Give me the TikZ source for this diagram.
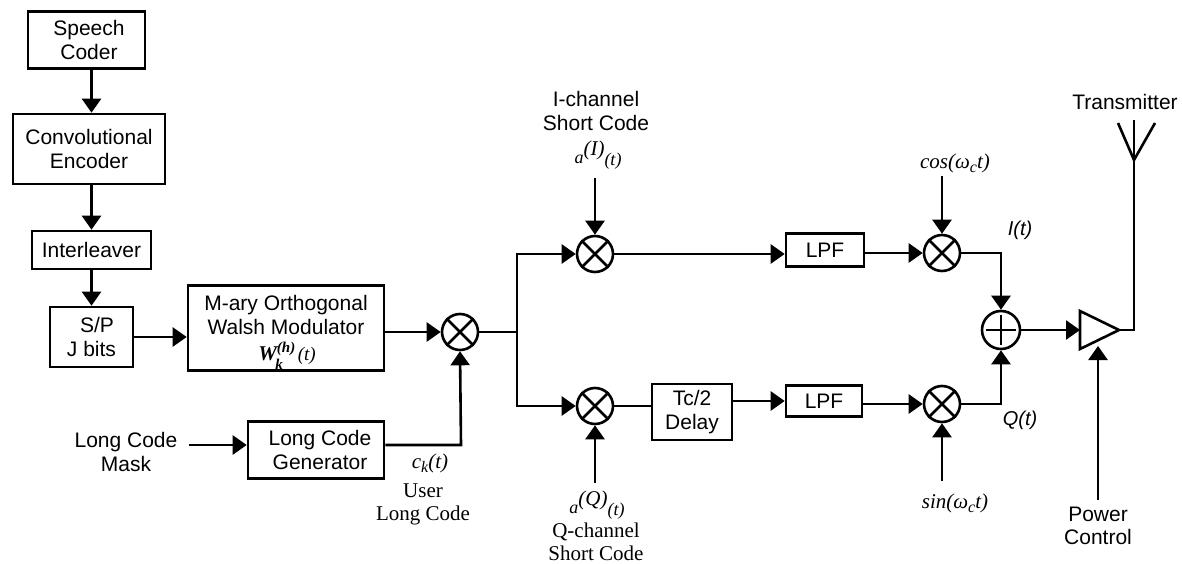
\documentclass[tikz,border=0pt]{standalone}
\usepackage{fontspec}
\setmainfont{Liberation Sans}
\newfontfamily\serifl{Liberation Serif}
\usetikzlibrary{arrows.meta}
\newcommand{\fs}[1]{\fontsize{#1}{#1}\selectfont}
\newcommand{\up}[2]{\raisebox{#1}{#2}}
\tikzset{
  x=1pt,y=-1pt,
  line/.style={line width=2.6pt,line join=miter},
  arr/.style={line width=2.6pt,-{Triangle[length=14pt,width=19pt]}},
  stepbox/.style={draw,line width=2.6pt,rectangle,inner sep=0pt,align=center,font=\fontsize{21}{23.5}\selectfont},
  lab/.style={inner sep=0pt,align=center,font=\fontsize{21}{23.5}\selectfont},
  slab/.style={inner sep=0pt,align=center,font=\serifl\fontsize{21}{23}\selectfont},
  mlab/.style={inner sep=0pt,font=\serifl\itshape\fontsize{21}{22}\selectfont},
  alab/.style={inner sep=0pt,font=\itshape\fontsize{20}{22}\selectfont},
  mix/.style={draw,circle,line width=2.6pt,minimum size=36pt,inner sep=0pt},
}
\newcommand{\mixer}[2]{\node[mix] (#1) at (#2) {};
  \draw[line] (#1.45)--(#1.225) (#1.135)--(#1.-45);}
\begin{document}
\begin{tikzpicture}
\useasboundingbox (0,0) rectangle (1182,564);
% boxes
\node[stepbox,minimum width=117pt,minimum height=57pt] (speech) at (86.5,40) {\hspace*{5pt}Speech\\\hspace*{5pt}Coder};
\node[stepbox,minimum width=152pt,minimum height=70pt] (conv) at (89,149) {Convolutional\\Encoder};
\node[stepbox,minimum width=119pt,minimum height=38pt] (inter) at (91.5,250) {Interleaver};
\node[stepbox,minimum width=83pt,minimum height=60pt] (sp) at (91.5,337) {\hspace*{11pt}S/P\\J bits};
\node[stepbox,minimum width=196pt,minimum height=85pt] (walsh) at (286,328) {};
\node[lab] (walsht) at (286,315) {M-ary Orthogonal\\Walsh Modulator};
\node[mlab] (wl) at (287,356) {\textbf{\textit{W}}\up{8pt}{\fs{15}\textbf{(\textit{h})}}\hspace{-20pt}\up{-9pt}{\fs{15}\textbf{\textit{k}}}\hspace{15pt}{\fs{19}(\textit{t})}};
\node[stepbox,minimum width=136pt,minimum height=57pt] (lcg) at (316,450) {\hspace*{8pt}Long Code\\\hspace*{8pt}Generator};
\node[stepbox,minimum width=80pt,minimum height=56pt] (delay) at (692,412) {Tc/2\\Delay};
\node[stepbox,minimum width=78pt,minimum height=33pt] (lpf1) at (825,250) {LPF};
\node[stepbox,minimum width=76pt,minimum height=31pt] (lpf2) at (824,401) {LPF};
% mixers
\mixer{m0}{460,332}
\mixer{m1}{595,254}
\mixer{m2}{595,406}
\mixer{m3}{942,253}
\mixer{m4}{942,404}
\node[mix,minimum size=38pt] (sum) at (1001,330) {};
\draw[line] ([xshift=5pt]sum.west)--([xshift=-5pt]sum.east) ([yshift=-5pt]sum.north)--([yshift=5pt]sum.south);
% amplifier
\coordinate (atl) at (1080,311); \coordinate (abl) at (1080,349); \coordinate (atip) at (1119,330);
\coordinate (ain) at (1080,330); \coordinate (apc) at (1098,346);
\draw[line] (atl)--(atip)--(abl)--cycle;
% antenna
\coordinate (aout) at (1134,330); \coordinate (afoot) at (1134,160); \coordinate (atop) at (1134,120);
\coordinate (ala) at (1118,123); \coordinate (ara) at (1155,123);
\draw[line] (atip)--(aout)--(atop);
\draw[line] (ala)--(afoot)--(ara);
% text labels
\node[lab] (lcm) at (126,452) {Long Code\\Mask};
\node[lab] (tx) at (1125,102) {Transmitter};
\node[lab] (pc) at (1098,526) {Power\\Control};
\node[lab] (ics) at (596,111) {I-channel\\Short Code};
\node[mlab] (ia) at (598,155) {{\fs{18}a}\up{8pt}{(\textit{I})}\up{-2pt}{\fs{18}(\textit{t})}};
\node[mlab] (qa) at (597,505) {{\fs{18}a}\up{8pt}{(\textit{Q})}\up{-2pt}{\fs{18}(\textit{t})}};
\node[slab] (qcs) at (596,542) {Q-channel\\Short Code};
\node[mlab] (ck) at (430,463) {c\up{-4pt}{\fs{16}k}(\textit{t})};
\node[slab] (ulc) at (423,504) {User\\Long Code};
\node[mlab] (cosl) at (955,163) {cos(\textit{ω}\up{-4pt}{\fs{16}c}\textit{t})};
\node[mlab] (sinl) at (955,503) {sin(\textit{ω}\up{-4pt}{\fs{16}c}\textit{t})};
\node[alab] (il) at (1020,230) {I(t)};
\node[alab] (ql) at (1020,420) {Q(t)};
% free ends
\coordinate (lcmr) at (189,445);
\coordinate (jn) at (517,332);
\coordinate (ji) at (517,254);
\coordinate (jq) at (517,406);
\coordinate (ck0) at (461,445);
\coordinate (i0) at (595,178);
\coordinate (q0) at (595,483);
\coordinate (c0) at (942,176);
\coordinate (s0) at (942,481);
\coordinate (i1) at (1001,253);
\coordinate (q1) at (1001,404);
\coordinate (pc0) at (1098,500);
% connectors
\draw[arr] (speech.south-|inter.north)--(conv.north-|inter.north);
\draw[arr] (conv.south-|inter.north)--(inter.north);
\draw[arr] (inter.south)--(sp.north);
\draw[arr] (sp.east)--(sp.east-|walsh.west);
\draw[arr] (walsh.east|-m0.west)--(m0.west);
\draw[arr] (lcmr)--(lcmr-|lcg.west);
\draw[arr] (lcmr-|lcg.east)--(ck0)--(m0.south);
\draw[line] (m0.east)--(jn);
\draw[arr] (jn)--(ji)--(m1.west);
\draw[arr] (jn)--(jq)--(m2.west);
\draw[arr] (i0)--(m1.north);
\draw[arr] (q0)--(m2.south);
\draw[arr] (m1.east)--(m1.east-|lpf1.west);
\draw[line] (m2.east)--(m2.east-|delay.west);
\draw[arr] (delay.east|-lpf2.west)--(lpf2.west);
\draw[arr] (lpf1.east|-m3.west)--(m3.west);
\draw[arr] (lpf2.east|-m4.west)--(m4.west);
\draw[arr] (c0)--(m3.north);
\draw[arr] (s0)--(m4.south);
\draw[arr] (m3.east)--(i1)--(sum.north);
\draw[arr] (m4.east)--(q1)--(sum.south);
\draw[arr] (sum.east)--(ain);
\draw[arr] (pc0)--(apc);
\end{tikzpicture}
\end{document}
